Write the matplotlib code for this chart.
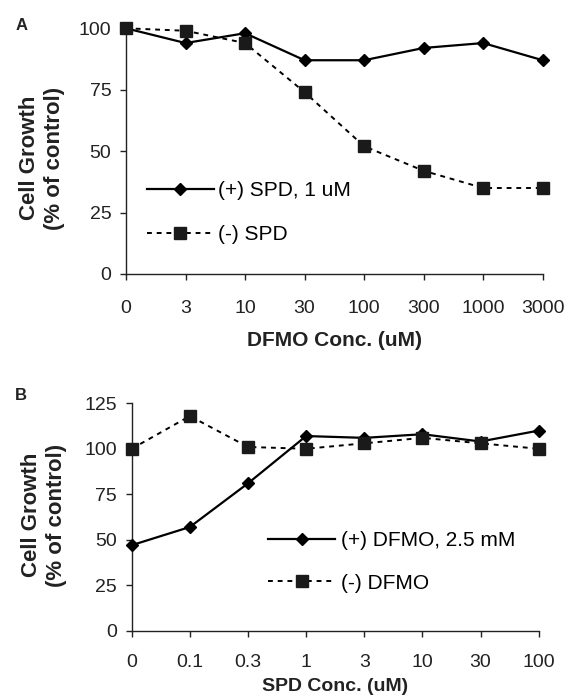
import matplotlib
matplotlib.use("Agg")
import matplotlib.pyplot as plt
import numpy as np

plt.rcParams["font.family"] = ["Liberation Sans", "DejaVu Sans"]

# panel A data
dfmo_conc = ["0", "3", "10", "30", "100", "300", "1000", "3000"]
plus_spd = [100, 94, 98, 87, 87, 92, 94, 87]
minus_spd = [100, 99, 94, 74, 52, 42, 35, 35]

# panel B data
spd_conc = ["0", "0.1", "0.3", "1", "3", "10", "30", "100"]
plus_dfmo = [47, 57, 81, 107, 106, 108, 104, 110]
minus_dfmo = [100, 118, 101, 100, 103, 106, 103, 100]

W, H = 570, 698
fig = plt.figure(figsize=(W / 100, H / 100), dpi=100)


def px_axes(left, right, top, bottom):
    return fig.add_axes([left / W, (H - bottom) / H, (right - left) / W, (bottom - top) / H])


def panel(ax, cats, y_plus, y_minus, lab_plus, lab_minus, ymax, xlabel, xlab_size, leg_xy, leg_space, hpad, xpad):
    x = np.arange(len(cats))
    ax.plot(x, y_plus, "-", color="black", lw=1.6, marker="D", ms=6, mfc="black", mec="black",
            clip_on=False, zorder=3, label=lab_plus)
    ax.plot(x, y_minus, color="black", lw=1.4, ls=(0, (2.5, 2.5)), marker="s", ms=8, mfc="#1a1a1a",
            mec="#1a1a1a", clip_on=False, zorder=3, label=lab_minus)
    ax.set_xlim(0, len(cats) - 1)
    ax.set_ylim(0, ymax)
    ax.set_yticks(np.arange(0, ymax + 1, 25))
    ax.set_xticks(x)
    ax.set_xticklabels(cats)
    for s in ["top", "right"]:
        ax.spines[s].set_visible(False)
    for s in ["left", "bottom"]:
        ax.spines[s].set_color("#222222")
        ax.spines[s].set_linewidth(1.0)
    ax.tick_params(axis="both", direction="out", length=4.5, width=1.0, color="#222222",
                   labelsize=14, labelcolor="#222222")
    ax.tick_params(axis="x", pad=xpad)
    ax.tick_params(axis="y", pad=6)
    ax.set_xlabel(xlabel, fontsize=xlab_size, fontweight="bold", color="#222222")
    ax.legend(loc="center left", bbox_to_anchor=leg_xy, frameon=False, fontsize=15,
              handlelength=3.2, handletextpad=hpad, labelspacing=leg_space,
              borderpad=0, borderaxespad=0, numpoints=1)


axA = px_axes(126, 542.7, 28.3, 274)
panel(axA, dfmo_conc, plus_spd, minus_spd, "(+) SPD, 1 uM", "(-) SPD", 100,
      "DFMO Conc. (uM)", 15, (0.05, 0.25), 1.2, 0.2, 14)
axA.xaxis.labelpad = 10

axB = px_axes(131.7, 538.7, 403.3, 630.7)
panel(axB, spd_conc, plus_dfmo, minus_dfmo, "(+) DFMO, 2.5 mM", "(-) DFMO", 125,
      "SPD Conc. (uM)", 14, (0.336, 0.303), 1.15, 0.3, 12.5)
axB.xaxis.labelpad = 5

for yc, xc in [(158, 42), (515, 44)]:
    fig.text(xc / W, 1 - yc / H, "Cell Growth\n(% of control)", rotation=90, ha="center",
             va="center", fontsize=16, fontweight="bold", color="#222222", linespacing=1.3)

fig.text(22 / W, 1 - 26 / H, "A", fontsize=12, fontweight="bold", ha="center", va="center", color="#222222")
fig.text(21 / W, 1 - 395 / H, "B", fontsize=12, fontweight="bold", ha="center", va="center", color="#222222")

fig.savefig("out.png", dpi=100)
